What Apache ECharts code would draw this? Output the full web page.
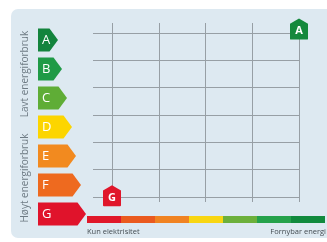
<!DOCTYPE html>
<html>
<head>
<meta charset="utf-8">
<script src="https://cdn.jsdelivr.net/npm/echarts@6/dist/echarts.min.js"></script>
<style>
html,body{margin:0;padding:0;background:#fff;}
#c{width:327px;height:242px;}
</style>
</head>
<body>
<div id="c"></div>
<script>
// Data
var classLetters = ['A','B','C','D','E','F','G'];
var classWidths = [20, 24, 29, 34, 38, 43, 48];
var classColors = ['#13843d','#1f9a46','#5fad36','#fcd500','#f28a1f','#ee6a1f','#e0132b'];
var barSegments = [1,1,1,1,1,1,1];
var barColors = ['#e0182a','#ea5a1f','#f08322','#f8d612','#6cb03b','#25a24b','#108a3d'];
var pointLetters = ['G','A'];
var pointX = [0, 4];
var pointY = [0.05, 6.15];
var pointColors = ['#e0162a','#15893d'];
var leftLabelText = 'Kun elektrisitet';
var rightLabelText = 'Fornybar energi';
var topTitle = 'Lavt energiforbruk';
var bottomTitle = 'Høyt energiforbruk';

var font = "'Open Sans', 'Noto Sans', sans-serif";
var chart = echarts.init(document.getElementById('c'), null, {renderer:'canvas'});
var gridLine = {show:true, lineStyle:{color:'#979fa5', width:1}};
var hidden = {axisLine:{show:false}, axisTick:{show:false}, axisLabel:{show:false}};

var scatterData = pointX.map(function(x,i){
  return {value:[x, pointY[i]], name:pointLetters[i], itemStyle:{color:pointColors[i], opacity:1}};
});
var labelData = classLetters.map(function(l,i){ return [i, classWidths[i]]; });
var barData = barSegments.map(function(v,i){ return {value:v, itemStyle:{color:barColors[i]}}; });

chart.setOption({
  animation:false,
  backgroundColor:'#ffffff',
  graphic:[
    {type:'rect', z:-10, shape:{x:11, y:9, width:330, height:229, r:7}, style:{fill:'#dde9f1'}},
    {type:'text', x:25, y:74, rotation:Math.PI/2, style:{text:topTitle, fill:'#6e7b84', font:'10px '+font, align:'center', verticalAlign:'middle'}},
    {type:'text', x:25, y:178, rotation:Math.PI/2, style:{text:bottomTitle, fill:'#6e7b84', font:'10px '+font, align:'center', verticalAlign:'middle'}},
    {type:'text', x:87, y:232, style:{text:leftLabelText, fill:'#444c52', font:'7.5px '+font, align:'left', verticalAlign:'middle'}},
    {type:'text', x:326, y:232, style:{text:rightLabelText, fill:'#444c52', font:'7.5px '+font, align:'right', verticalAlign:'middle'}}
  ],
  grid:[
    {left:112, right:28, top:23, bottom:40},
    {left:93, right:28, top:33, bottom:45},
    {left:38, width:50, top:25.5, bottom:13.5},
    {left:87, right:2, top:216, height:7}
  ],
  xAxis:[
    Object.assign({gridIndex:0, type:'value', min:0, max:4, interval:1, splitLine:gridLine}, hidden),
    Object.assign({gridIndex:1, type:'value', min:0, max:1, splitLine:{show:false}}, hidden),
    Object.assign({gridIndex:2, type:'value', min:0, max:50, splitLine:{show:false}}, hidden),
    Object.assign({gridIndex:3, type:'category', data:barSegments.map(function(v,i){return 's'+i;}), splitLine:{show:false}}, hidden)
  ],
  yAxis:[
    Object.assign({gridIndex:0, type:'value', min:-0.18, max:6.37, splitLine:{show:false}}, hidden),
    Object.assign({gridIndex:1, type:'value', min:0, max:6, interval:1, splitLine:gridLine}, hidden),
    Object.assign({gridIndex:2, type:'category', inverse:true, data:classLetters, splitLine:{show:false}}, hidden),
    Object.assign({gridIndex:3, type:'value', min:0, max:1, splitLine:{show:false}}, hidden)
  ],
  series:[
    {
      type:'scatter', xAxisIndex:0, yAxisIndex:0, z:5,
      symbol:'path://M10,0 L20,6 L20,23 Q20,24 19,24 L1,24 Q0,24 0,23 L0,6 Z',
      symbolSize:[18,21],
      itemStyle:{opacity:1},
      data:scatterData,
      label:{show:true, formatter:'{b}', color:'#fff', fontSize:11, fontWeight:'bold', fontFamily:font, position:'inside', offset:[0,2]}
    },
    {
      type:'custom', xAxisIndex:2, yAxisIndex:2,
      data:labelData,
      encode:{x:1, y:0},
      renderItem:function(params, api){
        var ci = api.value(0);
        var w = api.value(1);
        var p0 = api.coord([0, ci]);
        var p1 = api.coord([w, ci]);
        var h = api.size([0,1])[1]*0.79;
        var d = 8.5;
        var x0 = p0[0], x1 = p1[0], y = p0[1];
        return {type:'group', children:[
          {type:'polygon', shape:{points:[[x0,y-h/2],[x1-d,y-h/2],[x1,y],[x1-d,y+h/2],[x0,y+h/2]]}, style:{fill:classColors[ci]}},
          {type:'text', style:{text:classLetters[ci], x:x0+4, y:y+0.5, verticalAlign:'middle', fill:'#ffffff', font:'13px '+font}}
        ]};
      }
    },
    {
      type:'bar', xAxisIndex:3, yAxisIndex:3,
      barWidth:'100%', barCategoryGap:'0%',
      data:barData
    }
  ]
});
</script>
</body>
</html>
